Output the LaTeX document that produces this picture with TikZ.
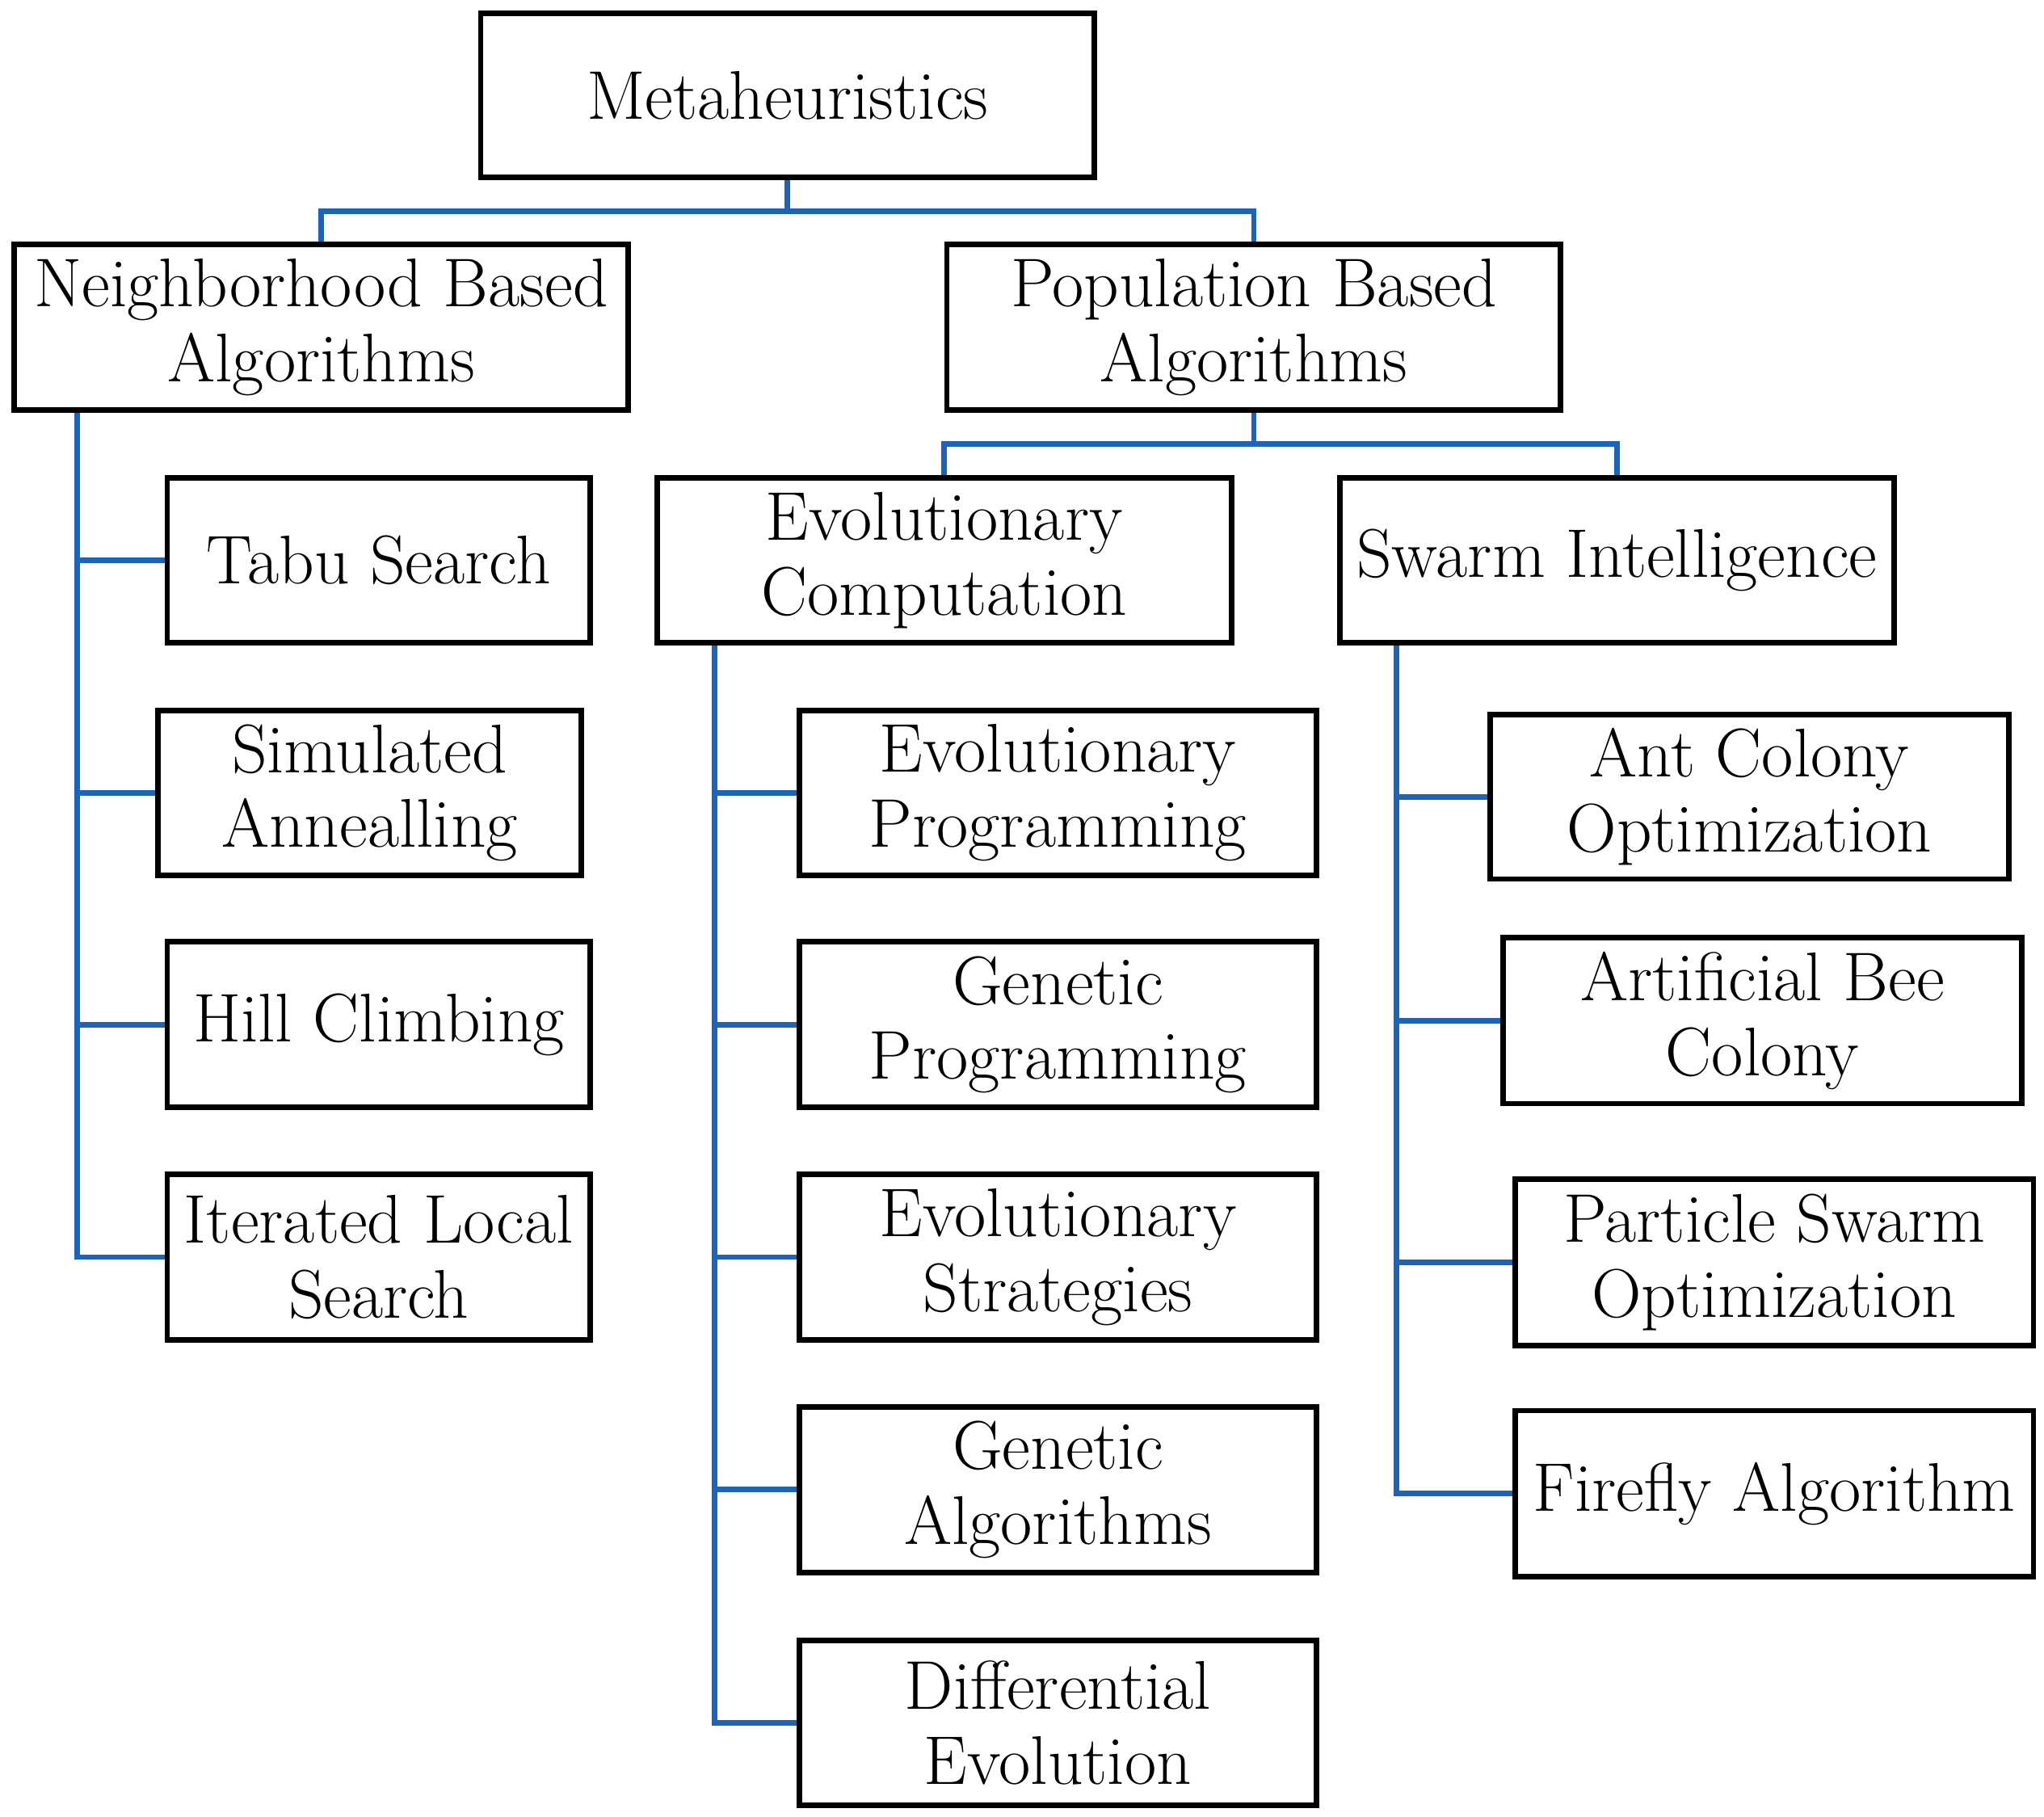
\documentclass[tikz,border=0pt]{standalone}
\begin{document}
\begin{tikzpicture}[x=0.01cm,y=-0.01cm,
 box/.style={draw,line width=1.2pt,align=center,inner sep=0pt,font=\fontsize{15}{16.3}\selectfont},
 link/.style={draw={rgb,255:red,30;green,100;blue,180},line width=1.2pt}]
\useasboundingbox (0,0) rectangle (1565,1391);
\newcommand{\bx}[6]{\node[box,minimum width={(#4-#2)*0.01cm},minimum height={(#5-#3)*0.01cm}] (#1) at ({(#2+#4)/2},{(#3+#5)/2}) {#6};}
\bx{meta}{368}{10}{838}{136}{Metaheuristics}
\bx{nb}{11}{187}{481}{314}{Neighborhood Based\\Algorithms}
\bx{pb}{725}{187}{1195}{314}{Population Based\\Algorithms}
\bx{tabu}{128}{366}{452}{492}{Tabu Search}
\bx{sa}{121}{544}{445}{670}{Simulated\\Annealling}
\bx{hc}{128}{721}{452}{848}{Hill Climbing}
\bx{ils}{128}{899}{452}{1026}{Iterated Local\\Search}
\bx{ec}{503}{366}{943}{492}{Evolutionary\\Computation}
\bx{si}{1026}{366}{1450}{492}{Swarm Intelligence}
\bx{ep}{612}{544}{1008}{670}{Evolutionary\\Programming}
\bx{gp}{612}{721}{1008}{848}{Genetic\\Programming}
\bx{es}{612}{899}{1008}{1026}{Evolutionary\\Strategies}
\bx{ga}{612}{1077}{1008}{1204}{Genetic\\Algorithms}
\bx{de}{612}{1256}{1008}{1382}{Differential\\Evolution}
\bx{aco}{1141}{547}{1538}{673}{Ant Colony\\Optimization}
\bx{abc}{1151}{718}{1548}{845}{Artificial Bee\\Colony}
\bx{pso}{1160}{903}{1557}{1030}{Particle Swarm\\Optimization}
\bx{fa}{1160}{1080}{1557}{1207}{Firefly Algorithm}
\coordinate (h1) at (0,162);
\coordinate (h2) at (0,340);
\coordinate (t1) at (59,0);
\coordinate (t2) at (547,0);
\coordinate (t3) at (1069,0);
\draw[link] (meta.south) -- (meta.south |- h1);
\draw[link] (nb.north) -- (nb.north |- h1) -- (pb.north |- h1) -- (pb.north);
\draw[link] (pb.south) -- (pb.south |- h2);
\draw[link] (ec.north) -- (ec.north |- h2) -- (si.north |- h2) -- (si.north);
\draw[link] (nb.south -| t1) |- (ils.west);
\foreach \n in {tabu,sa,hc} \draw[link] (t1 |- \n.west) -- (\n.west);
\draw[link] (ec.south -| t2) |- (de.west);
\foreach \n in {ep,gp,es,ga} \draw[link] (t2 |- \n.west) -- (\n.west);
\draw[link] (si.south -| t3) |- (fa.west);
\foreach \n in {aco,abc,pso} \draw[link] (t3 |- \n.west) -- (\n.west);
\end{tikzpicture}
\end{document}
